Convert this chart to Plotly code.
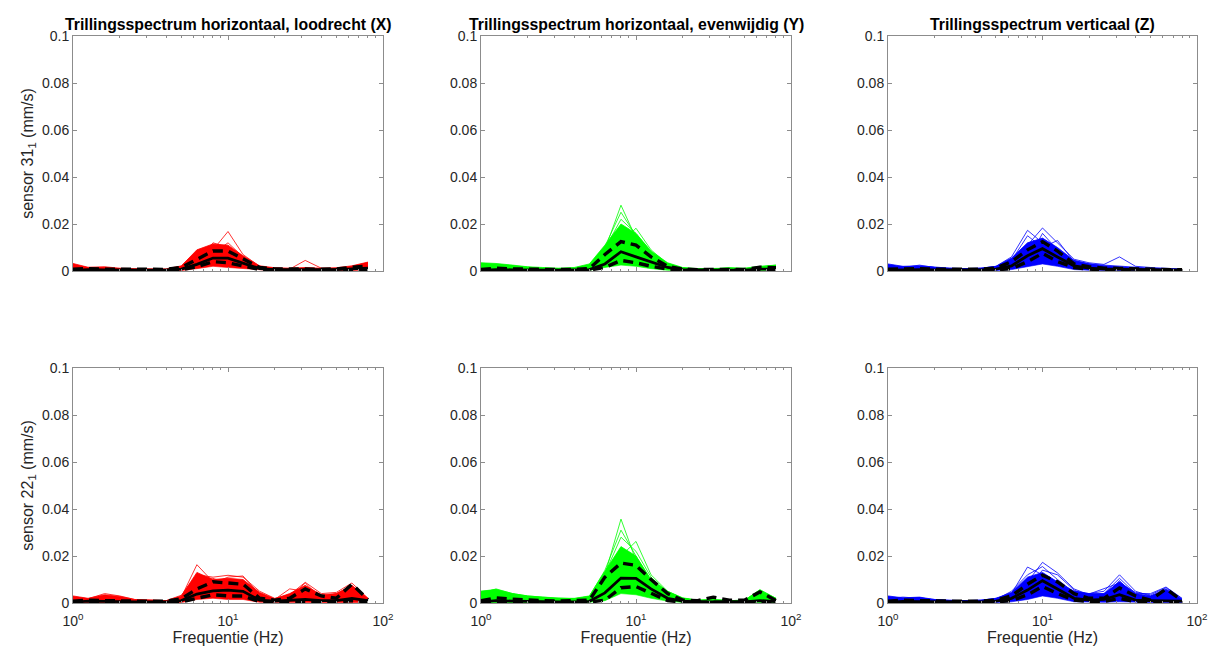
import plotly.graph_objects as go

# 1/3-octave band centre frequencies (Hz)
freq = [1, 1.25, 1.6, 2, 2.5, 3.15, 4, 5, 6.3, 8, 10, 12.5, 16, 20, 25, 31.5, 40, 50, 63, 80]

# ---- sensor 31, X (loodrecht) ----
s31x_lo = [0.0001, 0.0002, 0.0001, 0.0001, 0.0001, 0.0001, 0.0001, 0.0002, 0.0010, 0.0020, 0.0015, 0.0010, 0.0003, 0.0001, 0.0001, 0.0001, 0.0001, 0.0001, 0.0002, 0.0003]
s31x_hi = [0.0032, 0.0016, 0.0018, 0.0012, 0.0010, 0.0008, 0.0009, 0.0022, 0.0090, 0.0115, 0.0110, 0.0065, 0.0022, 0.0014, 0.0012, 0.0015, 0.0012, 0.0014, 0.0022, 0.0038]
s31x_lines = [
    [0.0015, 0.0010, 0.0010, 0.0008, 0.0006, 0.0005, 0.0006, 0.0015, 0.0050, 0.0090, 0.0168, 0.0070, 0.0020, 0.0010, 0.0008, 0.0008, 0.0006, 0.0008, 0.0015, 0.0020],
    [0.0010, 0.0012, 0.0010, 0.0007, 0.0006, 0.0005, 0.0005, 0.0012, 0.0040, 0.0075, 0.0085, 0.0050, 0.0015, 0.0010, 0.0008, 0.0045, 0.0012, 0.0010, 0.0012, 0.0025],
    [0.0025, 0.0014, 0.0012, 0.0010, 0.0008, 0.0006, 0.0007, 0.0020, 0.0085, 0.0075, 0.0120, 0.0060, 0.0018, 0.0012, 0.0010, 0.0009, 0.0008, 0.0010, 0.0018, 0.0035],
    [0.0008, 0.0006, 0.0007, 0.0005, 0.0004, 0.0004, 0.0005, 0.0010, 0.0030, 0.0120, 0.0100, 0.0045, 0.0012, 0.0007, 0.0006, 0.0006, 0.0005, 0.0007, 0.0010, 0.0015],
]
s31x_med = [0.0003, 0.0006, 0.0005, 0.0004, 0.0004, 0.0004, 0.0005, 0.0008, 0.0028, 0.0055, 0.0055, 0.0035, 0.0010, 0.0006, 0.0005, 0.0005, 0.0005, 0.0006, 0.0010, 0.0012]
s31x_phi = [0.0008, 0.0010, 0.0008, 0.0007, 0.0006, 0.0006, 0.0007, 0.0015, 0.0050, 0.0085, 0.0085, 0.0050, 0.0015, 0.0009, 0.0008, 0.0008, 0.0008, 0.0009, 0.0016, 0.0022]
s31x_plo = [0.0002, 0.0003, 0.0003, 0.0002, 0.0002, 0.0002, 0.0003, 0.0005, 0.0018, 0.0040, 0.0035, 0.0020, 0.0006, 0.0004, 0.0003, 0.0003, 0.0003, 0.0004, 0.0006, 0.0007]

# ---- sensor 31, Y (evenwijdig) ----
s31y_lo = [0.0001, 0.0002, 0.0001, 0.0001, 0.0001, 0.0001, 0.0001, 0.0003, 0.0015, 0.0025, 0.0020, 0.0010, 0.0003, 0.0001, 0.0001, 0.0001, 0.0001, 0.0001, 0.0002, 0.0002]
s31y_hi = [0.0035, 0.0032, 0.0025, 0.0018, 0.0015, 0.0012, 0.0015, 0.0030, 0.0110, 0.0200, 0.0160, 0.0085, 0.0035, 0.0015, 0.0010, 0.0012, 0.0012, 0.0012, 0.0020, 0.0025]
s31y_lines = [
    [0.0020, 0.0025, 0.0018, 0.0012, 0.0010, 0.0008, 0.0010, 0.0020, 0.0090, 0.0280, 0.0140, 0.0070, 0.0025, 0.0010, 0.0008, 0.0008, 0.0008, 0.0009, 0.0015, 0.0020],
    [0.0015, 0.0020, 0.0015, 0.0010, 0.0008, 0.0007, 0.0009, 0.0025, 0.0105, 0.0250, 0.0150, 0.0075, 0.0030, 0.0012, 0.0008, 0.0009, 0.0012, 0.0010, 0.0012, 0.0022],
    [0.0010, 0.0015, 0.0012, 0.0009, 0.0007, 0.0006, 0.0008, 0.0018, 0.0070, 0.0120, 0.0182, 0.0090, 0.0030, 0.0012, 0.0008, 0.0008, 0.0015, 0.0010, 0.0012, 0.0018],
    [0.0030, 0.0028, 0.0020, 0.0015, 0.0012, 0.0010, 0.0012, 0.0022, 0.0095, 0.0220, 0.0160, 0.0080, 0.0030, 0.0013, 0.0009, 0.0010, 0.0010, 0.0010, 0.0018, 0.0025],
]
s31y_med = [0.0003, 0.0006, 0.0005, 0.0004, 0.0004, 0.0004, 0.0005, 0.0006, 0.0030, 0.0082, 0.0060, 0.0040, 0.0015, 0.0006, 0.0004, 0.0004, 0.0004, 0.0004, 0.0008, 0.0008]
s31y_phi = [0.0007, 0.0012, 0.0009, 0.0007, 0.0006, 0.0006, 0.0007, 0.0010, 0.0070, 0.0125, 0.0110, 0.0060, 0.0020, 0.0008, 0.0006, 0.0006, 0.0007, 0.0007, 0.0016, 0.0014]
s31y_plo = [0.0002, 0.0003, 0.0003, 0.0002, 0.0002, 0.0002, 0.0003, 0.0004, 0.0015, 0.0045, 0.0035, 0.0020, 0.0008, 0.0003, 0.0002, 0.0002, 0.0002, 0.0002, 0.0004, 0.0004]

# ---- sensor 31, Z (verticaal) ----
s31z_lo = [0.0001, 0.0002, 0.0001, 0.0001, 0.0001, 0.0001, 0.0001, 0.0002, 0.0006, 0.0020, 0.0030, 0.0020, 0.0006, 0.0003, 0.0002, 0.0001, 0.0001, 0.0001, 0.0001, 0.0001]
s31z_hi = [0.0030, 0.0020, 0.0022, 0.0016, 0.0012, 0.0010, 0.0012, 0.0020, 0.0055, 0.0120, 0.0140, 0.0100, 0.0045, 0.0030, 0.0020, 0.0015, 0.0012, 0.0010, 0.0010, 0.0008]
s31z_lines = [
    [0.0010, 0.0015, 0.0025, 0.0015, 0.0012, 0.0010, 0.0012, 0.0020, 0.0060, 0.0173, 0.0120, 0.0080, 0.0040, 0.0030, 0.0025, 0.0020, 0.0015, 0.0010, 0.0008, 0.0006],
    [0.0008, 0.0012, 0.0015, 0.0012, 0.0010, 0.0008, 0.0010, 0.0015, 0.0050, 0.0110, 0.0183, 0.0120, 0.0050, 0.0035, 0.0028, 0.0060, 0.0020, 0.0015, 0.0010, 0.0008],
    [0.0020, 0.0018, 0.0020, 0.0014, 0.0010, 0.0009, 0.0011, 0.0018, 0.0045, 0.0150, 0.0100, 0.0130, 0.0040, 0.0025, 0.0020, 0.0015, 0.0012, 0.0009, 0.0008, 0.0006],
    [0.0005, 0.0008, 0.0010, 0.0008, 0.0007, 0.0006, 0.0008, 0.0012, 0.0030, 0.0045, 0.0160, 0.0090, 0.0045, 0.0030, 0.0022, 0.0018, 0.0012, 0.0008, 0.0006, 0.0005],
]
s31z_med = [0.0004, 0.0006, 0.0006, 0.0005, 0.0004, 0.0004, 0.0005, 0.0008, 0.0022, 0.0065, 0.0095, 0.0060, 0.0022, 0.0012, 0.0008, 0.0008, 0.0006, 0.0005, 0.0004, 0.0004]
s31z_phi = [0.0008, 0.0010, 0.0010, 0.0008, 0.0007, 0.0006, 0.0008, 0.0012, 0.0040, 0.0090, 0.0125, 0.0085, 0.0030, 0.0018, 0.0012, 0.0011, 0.0009, 0.0007, 0.0006, 0.0005]
s31z_plo = [0.0002, 0.0003, 0.0003, 0.0003, 0.0002, 0.0002, 0.0003, 0.0005, 0.0010, 0.0040, 0.0075, 0.0040, 0.0015, 0.0008, 0.0005, 0.0005, 0.0004, 0.0003, 0.0003, 0.0002]

# ---- sensor 22, X ----
s22x_lo = [0.0001, 0.0002, 0.0002, 0.0001, 0.0001, 0.0001, 0.0001, 0.0002, 0.0015, 0.0020, 0.0015, 0.0015, 0.0003, 0.0002, 0.0002, 0.0002, 0.0002, 0.0002, 0.0003, 0.0002]
s22x_hi = [0.0030, 0.0020, 0.0035, 0.0028, 0.0015, 0.0012, 0.0010, 0.0030, 0.0130, 0.0100, 0.0105, 0.0100, 0.0045, 0.0018, 0.0040, 0.0075, 0.0035, 0.0040, 0.0075, 0.0020]
s22x_lines = [
    [0.0020, 0.0015, 0.0030, 0.0025, 0.0012, 0.0010, 0.0009, 0.0025, 0.0163, 0.0090, 0.0095, 0.0085, 0.0040, 0.0015, 0.0030, 0.0060, 0.0030, 0.0035, 0.0060, 0.0015],
    [0.0025, 0.0018, 0.0040, 0.0030, 0.0015, 0.0012, 0.0010, 0.0033, 0.0120, 0.0110, 0.0118, 0.0110, 0.0050, 0.0020, 0.0035, 0.0088, 0.0040, 0.0045, 0.0085, 0.0020],
    [0.0010, 0.0010, 0.0025, 0.0020, 0.0010, 0.0008, 0.0008, 0.0020, 0.0100, 0.0085, 0.0110, 0.0115, 0.0035, 0.0015, 0.0060, 0.0050, 0.0025, 0.0040, 0.0070, 0.0018],
    [0.0015, 0.0012, 0.0020, 0.0015, 0.0008, 0.0007, 0.0007, 0.0018, 0.0110, 0.0105, 0.0080, 0.0090, 0.0030, 0.0012, 0.0025, 0.0085, 0.0020, 0.0030, 0.0065, 0.0015],
]
s22x_med = [0.0003, 0.0008, 0.0007, 0.0005, 0.0005, 0.0005, 0.0005, 0.0010, 0.0038, 0.0052, 0.0055, 0.0050, 0.0012, 0.0008, 0.0010, 0.0015, 0.0010, 0.0010, 0.0020, 0.0010]
s22x_phi = [0.0008, 0.0012, 0.0010, 0.0008, 0.0007, 0.0007, 0.0008, 0.0018, 0.0060, 0.0090, 0.0085, 0.0080, 0.0020, 0.0012, 0.0020, 0.0060, 0.0030, 0.0020, 0.0080, 0.0015]
s22x_plo = [0.0002, 0.0004, 0.0003, 0.0003, 0.0003, 0.0003, 0.0003, 0.0005, 0.0020, 0.0035, 0.0030, 0.0030, 0.0006, 0.0004, 0.0004, 0.0005, 0.0004, 0.0004, 0.0010, 0.0005]

# ---- sensor 22, Y ----
s22y_lo = [0.0001, 0.0002, 0.0002, 0.0001, 0.0001, 0.0001, 0.0001, 0.0003, 0.0010, 0.0040, 0.0035, 0.0020, 0.0008, 0.0002, 0.0001, 0.0001, 0.0001, 0.0001, 0.0002, 0.0002]
s22y_hi = [0.0050, 0.0058, 0.0040, 0.0030, 0.0025, 0.0020, 0.0020, 0.0030, 0.0135, 0.0240, 0.0200, 0.0100, 0.0050, 0.0022, 0.0012, 0.0015, 0.0010, 0.0012, 0.0055, 0.0020]
s22y_lines = [
    [0.0040, 0.0060, 0.0040, 0.0030, 0.0025, 0.0020, 0.0018, 0.0025, 0.0120, 0.0357, 0.0180, 0.0090, 0.0040, 0.0018, 0.0010, 0.0010, 0.0008, 0.0010, 0.0040, 0.0015],
    [0.0050, 0.0055, 0.0038, 0.0028, 0.0022, 0.0018, 0.0018, 0.0028, 0.0139, 0.0310, 0.0200, 0.0095, 0.0045, 0.0020, 0.0012, 0.0015, 0.0010, 0.0012, 0.0050, 0.0018],
    [0.0030, 0.0040, 0.0030, 0.0022, 0.0018, 0.0015, 0.0015, 0.0022, 0.0110, 0.0200, 0.0262, 0.0120, 0.0050, 0.0020, 0.0010, 0.0012, 0.0008, 0.0010, 0.0057, 0.0020],
    [0.0035, 0.0045, 0.0035, 0.0025, 0.0020, 0.0017, 0.0016, 0.0025, 0.0125, 0.0280, 0.0220, 0.0110, 0.0045, 0.0018, 0.0011, 0.0013, 0.0009, 0.0011, 0.0045, 0.0017],
]
s22y_med = [0.0004, 0.0010, 0.0008, 0.0006, 0.0005, 0.0005, 0.0005, 0.0007, 0.0043, 0.0106, 0.0105, 0.0060, 0.0020, 0.0008, 0.0005, 0.0006, 0.0005, 0.0005, 0.0010, 0.0006]
s22y_phi = [0.0010, 0.0022, 0.0016, 0.0012, 0.0010, 0.0009, 0.0009, 0.0012, 0.0110, 0.0170, 0.0160, 0.0100, 0.0040, 0.0012, 0.0010, 0.0025, 0.0012, 0.0012, 0.0047, 0.0010]
s22y_plo = [0.0002, 0.0004, 0.0003, 0.0003, 0.0003, 0.0003, 0.0003, 0.0004, 0.0012, 0.0065, 0.0070, 0.0040, 0.0010, 0.0004, 0.0003, 0.0003, 0.0003, 0.0003, 0.0004, 0.0003]

# ---- sensor 22, Z ----
s22z_lo = [0.0001, 0.0002, 0.0002, 0.0001, 0.0001, 0.0001, 0.0001, 0.0002, 0.0005, 0.0015, 0.0030, 0.0020, 0.0005, 0.0003, 0.0003, 0.0005, 0.0002, 0.0002, 0.0002, 0.0002]
s22z_hi = [0.0030, 0.0022, 0.0025, 0.0015, 0.0012, 0.0010, 0.0012, 0.0020, 0.0045, 0.0110, 0.0130, 0.0090, 0.0050, 0.0040, 0.0040, 0.0090, 0.0040, 0.0030, 0.0060, 0.0015]
s22z_lines = [
    [0.0020, 0.0025, 0.0020, 0.0014, 0.0010, 0.0010, 0.0012, 0.0020, 0.0040, 0.0153, 0.0120, 0.0080, 0.0050, 0.0040, 0.0050, 0.0120, 0.0050, 0.0030, 0.0050, 0.0015],
    [0.0015, 0.0018, 0.0015, 0.0012, 0.0010, 0.0009, 0.0010, 0.0018, 0.0035, 0.0090, 0.0173, 0.0128, 0.0060, 0.0035, 0.0040, 0.0105, 0.0040, 0.0040, 0.0068, 0.0020],
    [0.0025, 0.0020, 0.0022, 0.0013, 0.0010, 0.0009, 0.0011, 0.0015, 0.0050, 0.0120, 0.0155, 0.0100, 0.0045, 0.0038, 0.0060, 0.0085, 0.0045, 0.0035, 0.0065, 0.0018],
    [0.0010, 0.0012, 0.0010, 0.0009, 0.0008, 0.0007, 0.0008, 0.0010, 0.0020, 0.0060, 0.0140, 0.0120, 0.0055, 0.0030, 0.0030, 0.0095, 0.0030, 0.0025, 0.0055, 0.0012],
]
s22z_med = [0.0003, 0.0007, 0.0006, 0.0005, 0.0004, 0.0004, 0.0005, 0.0008, 0.0020, 0.0055, 0.0095, 0.0060, 0.0020, 0.0012, 0.0015, 0.0035, 0.0012, 0.0010, 0.0010, 0.0008]
s22z_phi = [0.0008, 0.0012, 0.0010, 0.0008, 0.0007, 0.0007, 0.0008, 0.0012, 0.0030, 0.0080, 0.0118, 0.0090, 0.0040, 0.0020, 0.0020, 0.0064, 0.0030, 0.0012, 0.0060, 0.0010]
s22z_plo = [0.0002, 0.0004, 0.0003, 0.0003, 0.0003, 0.0003, 0.0003, 0.0005, 0.0010, 0.0035, 0.0070, 0.0040, 0.0012, 0.0006, 0.0006, 0.0020, 0.0006, 0.0005, 0.0005, 0.0004]

titles = ["Trillingsspectrum horizontaal, loodrecht (X)",
          "Trillingsspectrum horizontaal, evenwijdig (Y)",
          "Trillingsspectrum verticaal (Z)"]
row_labels = ["sensor 31<sub>1</sub> (mm/s)", "sensor 22<sub>1</sub> (mm/s)"]
colors = ["#FF0000", "#00FF00", "#0000FF"]

panels = [
    (s31x_lo, s31x_hi, s31x_lines, s31x_med, s31x_phi, s31x_plo),
    (s31y_lo, s31y_hi, s31y_lines, s31y_med, s31y_phi, s31y_plo),
    (s31z_lo, s31z_hi, s31z_lines, s31z_med, s31z_phi, s31z_plo),
    (s22x_lo, s22x_hi, s22x_lines, s22x_med, s22x_phi, s22x_plo),
    (s22y_lo, s22y_hi, s22y_lines, s22y_med, s22y_phi, s22y_plo),
    (s22z_lo, s22z_hi, s22z_lines, s22z_med, s22z_phi, s22z_plo),
]

# axes positions (paper fractions), MATLAB subplot look
W, H = 1210, 653
col_dom = [(73 / W, 383 / W), (481 / W, 791 / W), (888 / W, 1197 / W)]
row_dom = [(1 - 271 / H, 1 - 36 / H), (1 - 603 / H, 1 - 368 / H)]

FONT = "Liberation Sans, Arial, Helvetica, sans-serif"
TXT = "#262626"
AX = "#8c8c8c"

fig = go.Figure()

for i, (lo, hi, lines, med, phi, plo) in enumerate(panels):
    r, c = divmod(i, 3)
    n = i + 1
    xa = "x" if n == 1 else f"x{n}"
    ya = "y" if n == 1 else f"y{n}"
    col = colors[c]

    # dense bundle of individual spectra
    fig.add_trace(go.Scatter(x=freq, y=lo, xaxis=xa, yaxis=ya, mode="lines",
                             line=dict(width=0.6, color=col), showlegend=False))
    fig.add_trace(go.Scatter(x=freq, y=hi, xaxis=xa, yaxis=ya, mode="lines",
                             line=dict(width=0.8, color=col), fill="tonexty",
                             fillcolor=col, showlegend=False))
    for ln in lines:
        fig.add_trace(go.Scatter(x=freq, y=ln, xaxis=xa, yaxis=ya, mode="lines",
                                 line=dict(width=0.8, color=col), showlegend=False))

    # percentiles and median
    for pv in (phi, plo):
        fig.add_trace(go.Scatter(x=freq, y=pv, xaxis=xa, yaxis=ya, mode="lines",
                                 line=dict(width=3.4, color="black", dash="10px,6px"),
                                 showlegend=False))
    fig.add_trace(go.Scatter(x=freq, y=med, xaxis=xa, yaxis=ya, mode="lines",
                             line=dict(width=2.8, color="black"), showlegend=False))

    xkey = "xaxis" if n == 1 else f"xaxis{n}"
    ykey = "yaxis" if n == 1 else f"yaxis{n}"
    fig.layout[xkey] = dict(
        type="log", range=[0, 2], domain=col_dom[c], anchor=ya, automargin=False,
        tickmode="array", tickvals=[1, 10, 100],
        ticktext=["10<sup>0</sup>", "10<sup>1</sup>", "10<sup>2</sup>"],
        showticklabels=(r == 1), ticklabelstandoff=5,
        ticks="inside", ticklen=4, tickcolor=AX, tickwidth=1,
        minor=dict(ticks="inside", ticklen=2, tickcolor=AX, tickmode="array",
                   tickvals=[2, 3, 4, 5, 6, 7, 8, 9, 20, 30, 40, 50, 60, 70, 80, 90]),
        showline=True, linecolor=AX, linewidth=1, mirror="ticks",
        showgrid=False, zeroline=False,
        tickfont=dict(family=FONT, size=14, color=TXT),
        title=dict(text="Frequentie (Hz)" if r == 1 else "",
                   font=dict(family=FONT, size=16, color=TXT), standoff=3),
    )
    fig.layout[ykey] = dict(
        range=[0, 0.1], domain=row_dom[r], anchor=xa, automargin=False,
        tickmode="array", tickvals=[0, 0.02, 0.04, 0.06, 0.08, 0.1],
        ticktext=["0", "0.02", "0.04", "0.06", "0.08", "0.1"],
        ticks="inside", ticklen=4, tickcolor=AX, tickwidth=1,
        showline=True, linecolor=AX, linewidth=1, mirror="ticks",
        showgrid=False, zeroline=False,
        tickfont=dict(family=FONT, size=14, color=TXT),
        title=dict(text=row_labels[r] if c == 0 else "",
                   font=dict(family=FONT, size=16, color=TXT), standoff=4),
    )

for c in range(3):
    fig.add_annotation(text="<b>%s</b>" % titles[c], xref="paper", yref="paper",
                       x=(col_dom[c][0] + col_dom[c][1]) / 2, y=row_dom[0][1],
                       xanchor="center", yanchor="bottom", yshift=1, showarrow=False,
                       font=dict(family=FONT, size=15.8, color="black"))

fig.update_layout(
    width=W, height=H,
    margin=dict(l=0, r=0, t=0, b=0),
    paper_bgcolor="white", plot_bgcolor="white",
    showlegend=False,
)

# drop the default page margin so the figure sits at the window's corner
fig.write_html("out.html", config={"displayModeBar": False},
               post_script="document.body.style.margin='0';document.body.style.overflow='hidden';")
